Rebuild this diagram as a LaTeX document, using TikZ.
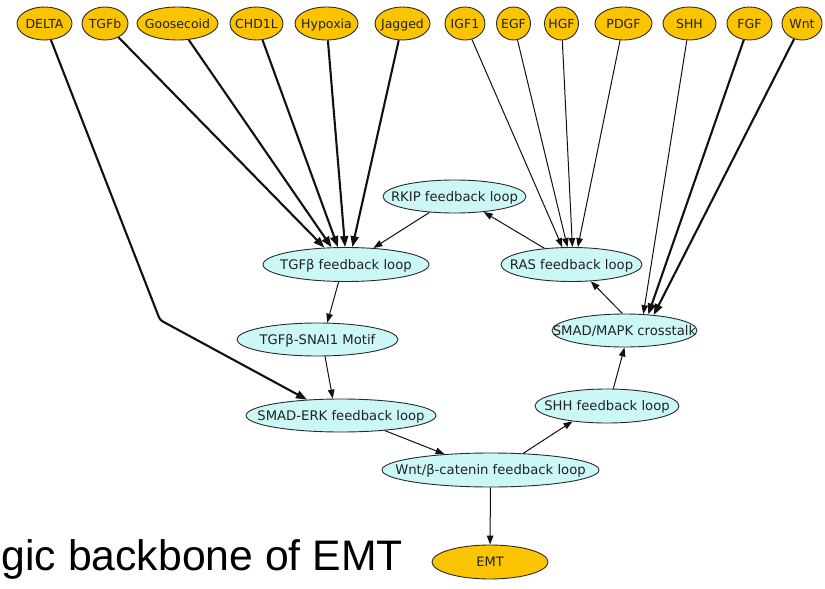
\documentclass[tikz,border=0pt]{standalone}
\usepackage{fontspec}
\setmainfont{DejaVu Sans}
\newfontfamily\headfont{Liberation Sans}
\usetikzlibrary{shapes.geometric,arrows.meta}

\definecolor{nodegold}{HTML}{FBC400}
\definecolor{nodecyan}{HTML}{CCF7F7}
\definecolor{rim}{HTML}{2A2A2A}
\definecolor{ink}{HTML}{222222}
\definecolor{wire}{HTML}{111111}

% zero-width label so the ellipse size is set only by the style
\newcommand\nt[1]{\makebox[0pt]{#1}}

\tikzset{
  inputnode/.style={ellipse, draw=rim, line width=0.9pt, fill=nodegold,
    inner sep=0pt, minimum height=33pt, text=ink,
    font=\fontsize{12.5}{14}\selectfont, text height=10.5pt, text depth=0pt},
  loopnode/.style={ellipse, draw=rim, line width=0.9pt, fill=nodecyan,
    inner sep=0pt, minimum height=33pt, text=ink,
    font=\fontsize{13.2}{15}\selectfont, text height=9.5pt, text depth=0pt},
  outnode/.style={ellipse, draw=rim, line width=0.9pt, fill=nodegold,
    inner sep=0pt, minimum height=34pt, text=ink,
    font=\fontsize{13}{15}\selectfont, text height=9.5pt, text depth=0pt},
  heavy/.style={draw=wire, line width=2.1pt,
    -{Triangle[length=11pt,width=8pt]}},
  light/.style={draw=wire, line width=1pt,
    -{Triangle[length=9pt,width=6.5pt]}},
}

\begin{document}
\begin{tikzpicture}[x=1pt,y=-1pt]
\useasboundingbox (0,0) rectangle (825,589);

% signal inputs
\node[inputnode, minimum width=55pt] (delta) at (44.5,23.5) {\nt{DELTA}};
\node[inputnode, minimum width=46pt] (tgfb)  at (105,23.5)  {\nt{TGFb}};
\node[inputnode, minimum width=81pt] (goose) at (177.5,23.5) {\nt{Goosecoid}};
\node[inputnode, minimum width=53pt] (chd)   at (256.5,23.5) {\nt{CHD1L}};
\node[inputnode, minimum width=63pt] (hyp)   at (326.5,23.5) {\nt{Hypoxia}};
\node[inputnode, minimum width=55pt] (jag)   at (402.5,23.5) {\nt{Jagged}};
\node[inputnode, minimum width=40pt] (igf)   at (465,23.5)   {\nt{IGF1}};
\node[inputnode, minimum width=34pt] (egf)   at (513.5,23.5) {\nt{EGF}};
\node[inputnode, minimum width=34pt] (hgf)   at (561.5,23.5) {\nt{HGF}};
\node[inputnode, minimum width=57pt] (pdgf)  at (623.5,23.5) {\nt{PDGF}};
\node[inputnode, minimum width=53pt] (shh)   at (689.5,23.5) {\nt{SHH}};
\node[inputnode, minimum width=45pt] (fgf)   at (749.5,23.5) {\nt{FGF}};
\node[inputnode, minimum width=40pt] (wnt)   at (802,23.5)   {\nt{Wnt}};

% feedback loops and motifs
\node[loopnode, minimum width=143pt] (rkip)    at (454.5,196.5) {\nt{RKIP feedback loop}};
\node[loopnode, minimum width=166pt, minimum height=34pt] (tgffb) at (346,264.5) {\nt{TGFβ feedback loop}};
\node[loopnode, minimum width=141pt, minimum height=34pt] (ras)   at (571.5,264.5) {\nt{RAS feedback loop}};
\node[loopnode, minimum width=145pt] (smad)    at (624.5,330.5) {\nt{SMAD/MAPK crosstalk}};
\node[loopnode, minimum width=161pt] (snai)    at (317.5,339.5) {\nt{TGFβ-SNAI1 Motif}};
\node[loopnode, minimum width=190pt] (smaderk) at (341,415.5)   {\nt{SMAD-ERK feedback loop}};
\node[loopnode, minimum width=144pt, minimum height=34pt] (shhfb) at (607,406) {\nt{SHH feedback loop}};
\node[loopnode, minimum width=217pt, minimum height=34pt] (wntb)  at (490.5,470) {\nt{Wnt/β-catenin feedback loop}};

% output
\node[outnode, minimum width=116pt] (emt) at (490,562) {\nt{EMT}};

% caption
\node[anchor=base east, inner sep=0pt, text=black,
      font=\headfont\fontsize{42.7}{50}\selectfont] (caption) at (403,570) {gic backbone of EMT};

% DELTA routes around the TGFβ module
\coordinate (bend) at (160,320);
\draw[heavy, rounded corners=3pt] (delta) -- (bend) -- (smaderk.155.6);

% inputs into the TGFβ feedback loop
\draw[heavy] (tgfb)  -- (tgffb.142);
\draw[heavy] (goose) -- (tgffb.130);
\draw[heavy] (chd)   -- (tgffb.115);
\draw[heavy] (hyp)   -- (tgffb.93);
\draw[heavy] (jag)   -- (tgffb.70.5);

% growth factors into the RAS loop
\draw[light] (igf)  -- (ras.118);
\draw[light] (egf)  -- (ras.103);
\draw[light] (hgf)  -- (ras.87);
\draw[light] (pdgf) -- (ras.70.5);

% inputs into the SMAD/MAPK crosstalk
\draw[light] (shh) -- (smad.41.6);
\draw[heavy] (fgf) -- (smad.34);
\draw[heavy] (wnt) -- (smad.28.5);

% backbone
\draw[light] (rkip) -- (tgffb.31);
\draw[light] (ras) -- (rkip.-28.5);
\draw[light] (smad.97) -- (ras.319);
\draw[light] (shhfb.70) -- (smad.270);
\draw[light] (wntb.27) -- (shhfb.204);
\draw[light] (smaderk.341.6) -- (wntb.161);
\draw[light] (wntb) -- (emt);
\draw[light] (tgffb.247.5) -- (snai.60);
\draw[light] (snai.294.6) -- (smaderk.116);
\end{tikzpicture}
\end{document}
